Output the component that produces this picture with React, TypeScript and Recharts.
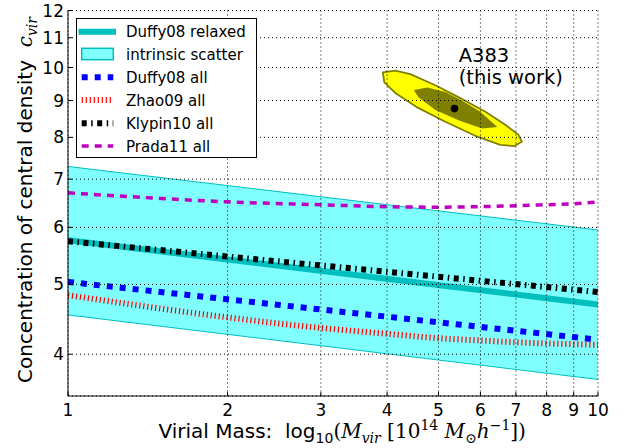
import React from 'react';
import {
  ComposedChart,
  XAxis,
  YAxis,
  CartesianGrid,
  Line,
  Area,
  Scatter,
  Legend,
  ReferenceDot,
} from 'recharts';

// ---------- data ----------
const massTicks = [1, 2, 3, 4, 5, 6, 7, 8, 9, 10];
const concTicks = [4, 5, 6, 7, 8, 9, 10, 11, 12];

const scatterMass = [1, 10];
const scatterLow = [4.535, 3.69];
const scatterHigh = [7.29, 5.95];

const duffyRelaxedMass = [1, 10];
const duffyRelaxedConc = [5.76, 4.69];

const duffyAllMass = [1, 10];
const duffyAllConc = [5.04, 4.19];

const zhaoMass = [1, 2, 3, 4, 5, 6, 7, 8, 9, 10];
const zhaoConc = [4.83, 4.5, 4.35, 4.27, 4.21, 4.18, 4.155, 4.14, 4.13, 4.12];

const klypinMass = [1, 10];
const klypinConc = [5.74, 4.88];

const pradaMass = [1, 1.5, 2, 3, 4, 5, 6, 7, 8, 9, 10];
const pradaConc = [6.7, 6.58, 6.51, 6.45, 6.41, 6.4, 6.41, 6.43, 6.45, 6.47, 6.51];

const outerMass = [3.926, 4.145, 4.424, 4.932, 5.498, 6.13, 6.685, 7.073, 7.182, 6.952, 6.541, 5.868, 5.151, 4.541, 4.145, 3.952];
const outerConc = [9.85, 9.9, 9.79, 9.45, 9.07, 8.68, 8.33, 8.07, 7.89, 7.78, 7.81, 8.04, 8.41, 8.82, 9.22, 9.54];

const innerMass = [4.493, 4.764, 5.151, 5.546, 5.997, 6.457, 6.05, 5.498, 4.932, 4.579];
const innerConc = [9.31, 9.38, 9.25, 8.99, 8.68, 8.27, 8.23, 8.43, 8.73, 9.1];

const a383Mass = [5.36];
const a383Conc = [8.77];

const annotationMass = 5.46;
const annotationConc = 10.17;
const annotationLines = ['A383', '(this work)'];

const legendLabels = [
  'Duffy08 relaxed',
  'intrinsic scatter',
  'Duffy08 all',
  'Zhao09 all',
  'Klypin10 all',
  'Prada11 all',
];

// ---------- helpers ----------
const rows = (ms: number[], cs: number[]) => ms.map((m, i) => ({ m, c: cs[i] }));
const bandRows = scatterMass.map((m, i) => ({ m, range: [scatterLow[i], scatterHigh[i]] }));

const TEAL = '#00BFBF';
const BAND = '#80FFFF';
const BLUE = '#0000FF';
const RED = '#FF0000';
const MAGENTA = '#BF00BF';
const OLIVE = '#808000';
const YELLOW = '#FFFF00';

const SANS = 'DejaVu Sans';
const SERIF = 'DejaVu Serif';

const polygon = (fill: string, stroke: string, sw: number) => (props: any) => {
  const pts = props.points || [];
  if (!pts.length) return <g />;
  const d = pts.map((p: any, i: number) => `${i ? 'L' : 'M'}${p.x},${p.y}`).join(' ') + ' Z';
  return <path d={d} fill={fill} stroke={stroke} strokeWidth={sw} strokeLinejoin="round" />;
};

const XLabel = (props: any) => {
  const vb = props.viewBox || { x: 68, y: 396, width: 530, height: 52 };
  const x = vb.x + 90.5;
  const y = vb.y + 42;
  return (
    <text x={x} y={y} fontSize={20} fill="#000" fontFamily={SANS} style={{ whiteSpace: 'pre' }}>
      <tspan>{'Virial Mass:  log'}</tspan>
      <tspan fontSize={14} dy={5}>10</tspan>
      <tspan fontFamily={SERIF} dy={-5}>(</tspan>
      <tspan fontFamily={SERIF} fontStyle="italic">M</tspan>
      <tspan fontFamily={SERIF} fontStyle="italic" fontSize={14} dy={5}>vir</tspan>
      <tspan fontFamily={SERIF} dy={-5}>{' [10'}</tspan>
      <tspan fontFamily={SERIF} fontSize={14} dy={-8}>14</tspan>
      <tspan fontFamily={SERIF} fontStyle="italic" dy={8}>{' M'}</tspan>
      <tspan fontFamily={SERIF} fontSize={14} dy={5}>⊙</tspan>
      <tspan fontFamily={SERIF} fontStyle="italic" dy={-5}>h</tspan>
      <tspan fontFamily={SERIF} fontSize={14} dy={-8}>−1</tspan>
      <tspan fontFamily={SERIF} dy={8}>])</tspan>
    </text>
  );
};

const YLabel = (props: any) => {
  const x = 32;
  const y = 383;
  return (
    <text
      x={x}
      y={y}
      transform={`rotate(-90, ${x}, ${y})`}
      fontSize={20}
      fill="#000"
      fontFamily={SANS}
      style={{ whiteSpace: 'pre' }}
    >
      <tspan>{'Concentration of central density  '}</tspan>
      <tspan fontFamily={SERIF} fontStyle="italic">c</tspan>
      <tspan fontFamily={SERIF} fontStyle="italic" fontSize={14} dy={5}>vir</tspan>
    </text>
  );
};

const AnnotationLabel = (props: any) => {
  const vb = props.viewBox || { x: 0, y: 0 };
  const x = vb.x + (vb.width || 0) / 2;
  const y = vb.y + (vb.height || 0) / 2;
  return (
    <text x={x} y={y} fontSize={19.5} fill="#000" fontFamily={SANS}>
      {annotationLines.map((t, i) => (
        <tspan key={i} x={x} dy={i === 0 ? 0 : 22}>
          {t}
        </tspan>
      ))}
    </text>
  );
};

const LegendBox = () => {
  const rowY = [13.7, 36, 59.3, 82, 105.3, 128];
  const x1 = 5.7;
  const x2 = 37.3;
  const symbols = [
    <line key="s0" x1={2.5} x2={40} y1={rowY[0]} y2={rowY[0]} stroke={TEAL} strokeWidth={6} />,
    <rect key="s1" x={5.7} y={rowY[1] - 5.7} width={31.6} height={11.4} fill={BAND} stroke={TEAL} strokeWidth={1.5} />,
    <line key="s2" x1={x1} x2={x2} y1={rowY[2]} y2={rowY[2]} stroke={BLUE} strokeWidth={6} strokeDasharray="6 7" />,
    <line key="s3" x1={x1} x2={x2} y1={rowY[3]} y2={rowY[3]} stroke={RED} strokeWidth={6} strokeDasharray="1.2 2.8" />,
    <line key="s4" x1={x1} x2={x2} y1={rowY[4]} y2={rowY[4]} stroke="#000" strokeWidth={6} strokeDasharray="5 4.5 1.5 4.5" />,
    <line key="s5" x1={x1} x2={x2} y1={rowY[5]} y2={rowY[5]} stroke={MAGENTA} strokeWidth={3.5} strokeDasharray="7 6" />,
  ];
  return (
    <div
      style={{
        width: 181,
        height: 140,
        border: '1px solid #000',
        background: '#fff',
        boxSizing: 'border-box',
        position: 'relative',
      }}
    >
      <svg width={179} height={138} style={{ position: 'absolute', left: -1, top: -1, overflow: 'visible' }}>
        {symbols}
        {legendLabels.map((t, i) => (
          <text key={t} x={50} y={rowY[i] + 5.5} fontSize={15} fontFamily={SANS} fill="#000">
            {t}
          </text>
        ))}
      </svg>
    </div>
  );
};

const tickStyle = { fontSize: 17, fill: '#000', fontFamily: SANS };

export default function App() {
  return (
    <div style={{ position: 'absolute', left: 0, top: 0, width: 633, height: 448, background: '#fff' }}>
      <ComposedChart
        width={633}
        height={448}
        margin={{ top: 10.5, right: 35, bottom: 0, left: 0 }}
        style={{ fontFamily: SANS }}
      >
        <XAxis
          dataKey="m"
          type="number"
          scale="log"
          domain={[1, 10]}
          ticks={massTicks}
          interval={0}
          allowDataOverflow
          height={52}
          tickSize={-4}
          tickMargin={12}
          tick={tickStyle}
          stroke="#000"
          tickLine={{ stroke: '#000' }}
          axisLine={{ stroke: '#000' }}
          label={XLabel}
        />
        <XAxis
          xAxisId="top"
          orientation="top"
          type="number"
          scale="log"
          domain={[1, 10]}
          ticks={massTicks}
          interval={0}
          allowDataOverflow
          height={0}
          tickSize={-4}
          tick={false}
          stroke="#000"
          tickLine={{ stroke: '#000' }}
          axisLine={{ stroke: '#000' }}
        />
        <YAxis
          dataKey="c"
          type="number"
          scale="log"
          domain={[3.5, 12]}
          ticks={concTicks}
          interval={0}
          allowDataOverflow
          width={68}
          tickSize={-4}
          tickMargin={8}
          tick={tickStyle}
          stroke="#000"
          tickLine={{ stroke: '#000' }}
          axisLine={{ stroke: '#000' }}
          label={YLabel}
        />
        <YAxis
          yAxisId="right"
          orientation="right"
          type="number"
          scale="log"
          domain={[3.5, 12]}
          ticks={concTicks}
          interval={0}
          allowDataOverflow
          width={0}
          tickSize={-4}
          tick={false}
          stroke="#000"
          tickLine={{ stroke: '#000' }}
          axisLine={{ stroke: '#000' }}
        />

        <Area
          data={bandRows}
          dataKey="range"
          type="linear"
          stroke={TEAL}
          strokeWidth={1}
          fill={BAND}
          fillOpacity={1}
          isAnimationActive={false}
          dot={false}
          activeDot={false}
        />
        <Line
          data={rows(pradaMass, pradaConc)}
          dataKey="c"
          type="monotone"
          stroke={MAGENTA}
          strokeWidth={3.5}
          strokeDasharray="7 6"
          dot={false}
          activeDot={false}
          isAnimationActive={false}
        />
        <Line
          data={rows(duffyRelaxedMass, duffyRelaxedConc)}
          dataKey="c"
          type="linear"
          stroke={TEAL}
          strokeWidth={6}
          dot={false}
          activeDot={false}
          isAnimationActive={false}
        />
        <Line
          data={rows(duffyAllMass, duffyAllConc)}
          dataKey="c"
          type="linear"
          stroke={BLUE}
          strokeWidth={6}
          strokeDasharray="6 7"
          dot={false}
          activeDot={false}
          isAnimationActive={false}
        />
        <Line
          data={rows(zhaoMass, zhaoConc)}
          dataKey="c"
          type="monotone"
          stroke={RED}
          strokeWidth={6}
          strokeDasharray="1.2 2.8"
          dot={false}
          activeDot={false}
          isAnimationActive={false}
        />
        <Line
          data={rows(klypinMass, klypinConc)}
          dataKey="c"
          type="linear"
          stroke="#000"
          strokeWidth={6}
          strokeDasharray="5 4.5 1.5 4.5"
          dot={false}
          activeDot={false}
          isAnimationActive={false}
        />
        <Scatter
          data={rows(outerMass, outerConc)}
          dataKey="c"
          fill={YELLOW}
          line={polygon(YELLOW, OLIVE, 1.8)}
          lineType="joint"
          shape={() => <g />}
          isAnimationActive={false}
        />
        <Scatter
          data={rows(innerMass, innerConc)}
          dataKey="c"
          fill={OLIVE}
          line={polygon(OLIVE, 'none', 0)}
          lineType="joint"
          shape={() => <g />}
          isAnimationActive={false}
        />
        <Scatter
          data={rows(a383Mass, a383Conc)}
          dataKey="c"
          fill="#000"
          shape={(p: any) => <circle cx={p.cx} cy={p.cy} r={3.8} fill="#000" />}
          isAnimationActive={false}
        />
        <CartesianGrid
          stroke="#000"
          strokeDasharray="1 3"
          strokeWidth={1}
          fill="none"
          zIndex={1000}
        />
        <ReferenceDot
          x={annotationMass}
          y={annotationConc}
          r={0}
          fill="none"
          stroke="none"
          label={AnnotationLabel}
        />
        <Legend
          layout="horizontal"
          verticalAlign="middle"
          align="center"
          wrapperStyle={{ left: 76, top: 18, width: 181, height: 140 }}
          content={LegendBox}
        />
      </ComposedChart>
    </div>
  );
}
